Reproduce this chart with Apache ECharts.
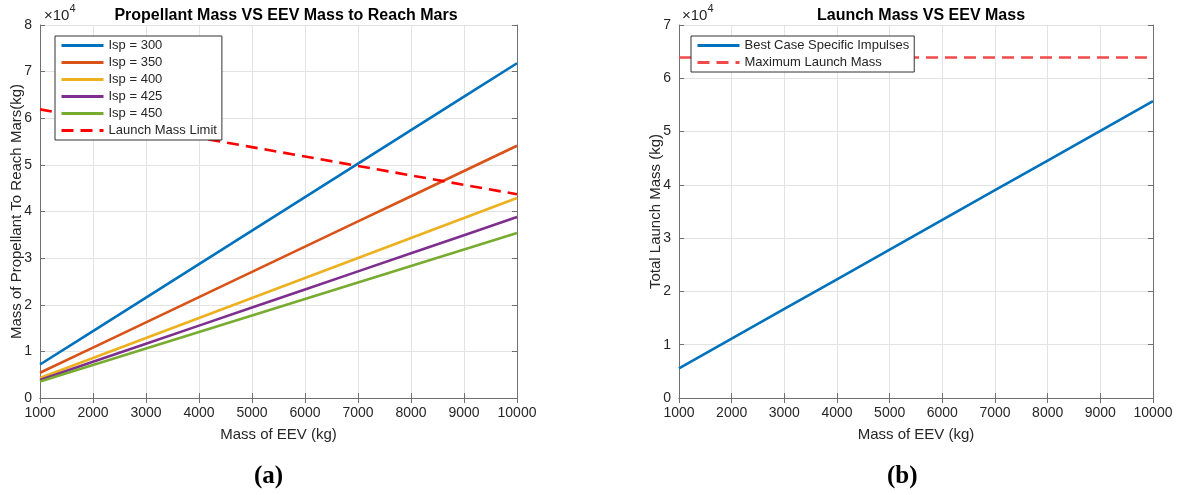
<!DOCTYPE html>
<html><head><meta charset="utf-8">
<script src="https://cdn.jsdelivr.net/npm/echarts@6/dist/echarts.min.js"></script>
<style>html,body{margin:0;padding:0;background:#fff}#c{width:1178px;height:495px}</style>
</head><body><div id="c"></div>
<script>
const eevMass = [1000,2000,3000,4000,5000,6000,7000,8000,9000,10000];
const isp300 = [7180,14360,21540,28720,35900,43080,50260,57440,64620,71800];
const isp350 = [5410,10820,16230,21640,27050,32460,37870,43280,48690,54100];
const isp400 = [4290,8580,12870,17160,21450,25740,30030,34320,38610,42900];
const isp425 = [3880,7760,11640,15520,19400,23280,27160,31040,34920,38800];
const isp450 = [3540,7080,10620,14160,17700,21240,24780,28320,31860,35400];
const launchLimit = [61900,59880,57860,55830,53810,51790,49770,47740,45720,43700];
const bestCase = [5570,11140,16710,22280,27850,33420,38990,44560,50130,55700];
const maxLaunch = [63900,63900,63900,63900,63900,63900,63900,63900,63900,63900];
const xTicks = [1000,2000,3000,4000,5000,6000,7000,8000,9000,10000];

const pairs = ys => eevMass.map((x,i)=>[x,ys[i]]);
const FONT = 'Liberation Sans, Arial, sans-serif';
const TXT = '#262626';
const AX = '#707070';

function xAxes(gi){
  return [{
    type:'value', gridIndex:gi, min:1000, max:10000, interval:1000,
    name:'Mass of EEV (kg)', nameLocation:'middle', nameGap:29,
    nameTextStyle:{fontFamily:FONT,fontSize:15,color:TXT},
    axisLine:{show:true,lineStyle:{color:AX,width:1}},
    axisTick:{show:true,inside:true,length:5,lineStyle:{color:AX}},
    axisLabel:{fontFamily:FONT,fontSize:14,color:TXT,margin:8,formatter:v=>String(v)},
    splitLine:{show:true,lineStyle:{color:'#e3e3e3',width:1}}
  },{
    type:'value', gridIndex:gi, position:'top', min:1000, max:10000, interval:1000,
    axisLine:{show:true,lineStyle:{color:AX,width:1}},
    axisTick:{show:true,inside:true,length:5,lineStyle:{color:AX}},
    axisLabel:{show:false}, splitLine:{show:false}
  }];
}
function yAxes(gi,max,name){
  return [{
    type:'value', gridIndex:gi, min:0, max:max, interval:10000,
    name:name, nameLocation:'middle', nameGap:16, nameMoveOverlap:false,
    nameTextStyle:{fontFamily:FONT,fontSize:15,color:TXT},
    axisLine:{show:true,lineStyle:{color:AX,width:1}},
    axisTick:{show:true,inside:true,length:5,lineStyle:{color:AX}},
    axisLabel:{fontFamily:FONT,fontSize:14,color:TXT,margin:8,formatter:v=>String(v/10000)},
    splitLine:{show:true,lineStyle:{color:'#e3e3e3',width:1}}
  },{
    type:'value', gridIndex:gi, position:'right', min:0, max:max, interval:10000,
    axisLine:{show:true,lineStyle:{color:AX,width:1}},
    axisTick:{show:true,inside:true,length:5,lineStyle:{color:AX}},
    axisLabel:{show:false}, splitLine:{show:false}
  }];
}
function line(name,data,color,xi,yi,dash){
  return {name, type:'line', xAxisIndex:xi, yAxisIndex:yi, data:pairs(data), symbol:'none', showSymbol:false,
    lineStyle:{color, width:2.6, type: dash?[12,7]:'solid'}, itemStyle:{color}, animation:false, z:3};
}
const legendBase = {orient:'vertical', itemWidth:42, itemHeight:10, itemGap:4,
  textStyle:{fontFamily:FONT,fontSize:13,color:TXT},
  backgroundColor:'#fff', borderColor:'#333', borderWidth:1, borderRadius:0,
  padding:[3,5,3,5], itemStyle:{opacity:0}, lineStyle:{width:3}};

const sup = {a:{fontFamily:FONT,fontSize:15,fill:TXT,verticalAlign:'bottom'},b:{fontFamily:FONT,fontSize:11,fill:TXT,verticalAlign:'top',padding:[0,0,9,0]}};
const option = {
  backgroundColor:'#fff',
  animation:false,
  title:[
    {text:'Propellant Mass VS EEV Mass to Reach Mars', left:281, top:3, textAlign:'center',
     textStyle:{fontFamily:FONT,fontSize:16,fontWeight:'bold',color:'#000'}},
    {text:'Launch Mass VS EEV Mass', left:916, top:3, textAlign:'center',
     textStyle:{fontFamily:FONT,fontSize:16,fontWeight:'bold',color:'#000'}}
  ],
  grid:[
    {left:40, top:25, width:477, height:373},
    {left:679, top:25, width:474, height:373}
  ],
  xAxis:[...xAxes(0), ...xAxes(1)],
  yAxis:[...yAxes(0,80000,'Mass of Propellant To Reach Mars(kg)'), ...yAxes(1,70000,'Total Launch Mass (kg)')],
  legend:[
    Object.assign({}, legendBase, {left:55, top:36,
      data:['Isp = 300','Isp = 350','Isp = 400','Isp = 425','Isp = 450','Launch Mass Limit']}),
    Object.assign({}, legendBase, {left:691, top:36,
      data:['Best Case Specific Impulses','Maximum Launch Mass']})
  ],
  series:[
    line('Isp = 300',isp300,'#0072BD',0,0),
    line('Isp = 350',isp350,'#D95319',0,0),
    line('Isp = 400',isp400,'#EDB120',0,0),
    line('Isp = 425',isp425,'#7E2F8E',0,0),
    line('Isp = 450',isp450,'#77AC30',0,0),
    line('Launch Mass Limit',launchLimit,'#FF0000',0,0,true),
    line('Best Case Specific Impulses',bestCase,'#0072BD',2,2),
    line('Maximum Launch Mass',maxLaunch,'#F24A4A',2,2,true)
  ],
  graphic:[
    {type:'text', left:44, top:3, style:{text:'{a|×10}{b|4}', rich:sup}},
    {type:'text', left:682, top:3, style:{text:'{a|×10}{b|4}', rich:sup}},
    {type:'text', x:254, y:464, style:{text:'(a)', font:'bold 25px "Liberation Serif", "DejaVu Serif", serif', fill:'#000'}},
    {type:'text', x:887, y:464, style:{text:'(b)', font:'bold 25px "Liberation Serif", "DejaVu Serif", serif', fill:'#000'}}
  ]
};
const chart = echarts.init(document.getElementById('c'), null, {renderer:'canvas'});
chart.setOption(option);
</script></body></html>
